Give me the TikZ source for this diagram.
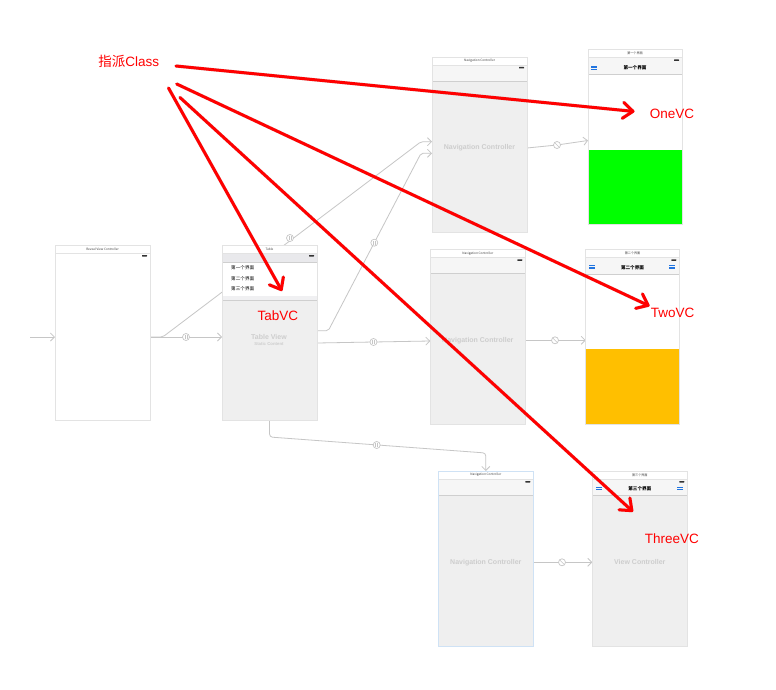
\documentclass[tikz,border=0pt]{standalone}
\usepackage{fontspec}
\setmainfont{Liberation Sans}
\newfontfamily\cjk{Noto Sans CJK SC}
\usetikzlibrary{arrows.meta,calc}
\definecolor{frm}{HTML}{E3E3E3}
\definecolor{bodyg}{HTML}{EFEFEF}
\definecolor{navg}{HTML}{F6F6F6}
\definecolor{navl}{HTML}{CFCFCF}
\definecolor{segc}{HTML}{C6C6C6}
\definecolor{lblg}{HTML}{CDCDCD}
\definecolor{iblue}{HTML}{2275E0}
\definecolor{vgreen}{HTML}{00FF00}
\definecolor{vorange}{HTML}{FFBF00}
\definecolor{selblue}{HTML}{CFE2F5}
\definecolor{tabg}{HTML}{E9E9EC}
\pgfdeclarelayer{bg}
\pgfsetlayers{bg,main}
\tikzset{
 scr/.style={draw=frm, line width=0.6pt, minimum width=95pt, minimum height=175pt, inner sep=0pt, outer sep=0pt, anchor=north west},
 ttl/.style={font=\cjk\fontsize{3.1}{4}\selectfont, text=black!75, inner sep=0pt},
 navttl/.style={font=\cjk\bfseries\fontsize{4.6}{5}\selectfont, text=black, inner sep=0pt},
 rowtxt/.style={font=\cjk\fontsize{4.6}{5}\selectfont, text=black, inner sep=0pt, anchor=west},
 glbl/.style={font=\bfseries\fontsize{7}{8}\selectfont, text=lblg, inner sep=0pt},
 redlbl/.style={font=\fontsize{13.5}{16}\selectfont, text=red, inner sep=0pt},
 seg/.style={draw=segc, line width=0.8pt},
 segarrow/.style={seg, -{Straight Barb[length=4pt,width=8pt,line width=0.8pt]}},
 segrel/.style={circle, draw=segc, fill=white, line width=0.7pt, minimum size=7pt, inner sep=0pt,
   path picture={\draw[segc, line width=0.5pt]
     ([xshift=-1pt,yshift=-1.8pt]path picture bounding box.center) -- ([xshift=-1pt,yshift=1.8pt]path picture bounding box.center)
     ([xshift=1pt,yshift=-1.8pt]path picture bounding box.center) -- ([xshift=1pt,yshift=1.8pt]path picture bounding box.center);}},
 segroot/.style={circle, draw=segc, fill=white, line width=0.7pt, minimum size=7pt, inner sep=0pt,
   path picture={\draw[segc, line width=0.5pt]
     ([xshift=-2.5pt,yshift=2.5pt]path picture bounding box.center) -- ([xshift=2.5pt,yshift=-2.5pt]path picture bounding box.center);}},
 redarrow/.style={draw=red, line width=3pt, line cap=round, line join=round, -{Straight Barb[length=10pt,width=16pt,round]}},
 redshadow/.style={draw=black, opacity=0.15, line width=3.4pt, line cap=round, line join=round, shift={(1.2,1.6)}, -{Straight Barb[length=10pt,width=16pt,round]}},
}
\newcommand\scrtitle[2]{%
  \draw[frm, line width=0.5pt, fill=white] (#1.north west) rectangle ($(#1.north east)+(0,8)$);
  \node[ttl] at ($(#1.north)+(0,4)$) {#2};}
\newcommand\scrbatt[1]{%
  \fill[black!80, rounded corners=0.4pt] ($(#1.north east)+(-8,10)$) rectangle ($(#1.north east)+(-3,11.5)$);}
\newcommand\scrnav[2]{%
  \fill[navg] ($(#1.north west)+(0,8)$) rectangle ($(#1.north east)+(0,#2)$);
  \draw[navl, line width=0.6pt] ($(#1.north west)+(0,#2)$) -- ($(#1.north east)+(0,#2)$);}
\newcommand\scrframe[2]{%
  \draw[#2, line width=0.6pt] (#1.north west) rectangle (#1.south east);}
\newcommand\scricon[1]{%
  \fill[iblue] ($(#1)+(-3,-1.6)$) rectangle ++(6,1.1);
  \fill[iblue] ($(#1)+(-3,0.5)$) rectangle ++(6,1.1);}
\begin{document}
\begin{tikzpicture}[x=1pt,y=-1pt]
\useasboundingbox (0,0) rectangle (776,690);
\begin{pgfonlayer}{bg}
\fill[white] (0,0) rectangle (776,690);
\end{pgfonlayer}

% ---------- screens ----------
% Reveal view controller
\node[scr, fill=white] (reveal) at (55,245) {};
\scrtitle{reveal}{Reveal View Controller}
\scrbatt{reveal}
\scrframe{reveal}{frm}

% Table view controller (TabVC)
\node[scr, fill=bodyg] (tab) at (222,245) {};
\fill[tabg] ($(tab.north west)+(0,8)$) rectangle ($(tab.north east)+(0,17.3)$);
\draw[navl, line width=0.5pt] ($(tab.north west)+(0,17.3)$) -- ($(tab.north east)+(0,17.3)$);
\fill[white] ($(tab.north west)+(0,17.6)$) rectangle ($(tab.north east)+(0,50.7)$);
\fill[tabg!70] ($(tab.north west)+(0,50.7)$) rectangle ($(tab.north east)+(0,55)$);
\draw[navl, line width=0.7pt] ($(tab.north west)+(0,55)$) -- ($(tab.north east)+(0,55)$);
\scrtitle{tab}{Table}
\scrbatt{tab}
\node[rowtxt] (row1) at ($(tab.north west)+(9,22.7)$) {第一个界面};
\node[rowtxt] (row2) at ($(tab.north west)+(9,33.7)$) {第二个界面};
\node[rowtxt] (row3) at ($(tab.north west)+(9,44)$) {第三个界面};
\node[glbl] (tabl) at (269,337.3) {Table View};
\node[font=\bfseries\fontsize{4.3}{5}\selectfont, text=lblg, inner sep=0pt] (tabsub) at (269,344.3) {Static Content};
\scrframe{tab}{frm}

% Navigation controller 1
\node[scr, fill=bodyg] (nav1) at (432,57) {};
\scrnav{nav1}{24.5}
\scrtitle{nav1}{Navigation Controller}
\scrbatt{nav1}
\node[glbl] (nav1l) at ($(nav1.center)+(0,3.6)$) {Navigation Controller};
\scrframe{nav1}{frm}

% OneVC
\node[scr, minimum width=94pt, fill=white] (one) at (588,49.5) {};
\scrnav{one}{24.8}
\fill[vgreen] ($(one.north west)+(0,100)$) rectangle (one.south east);
\scrtitle{one}{第一个界面}
\scrbatt{one}
\scricon{$(one.north west)+(6,18.6)$}
\node[navttl] (onet) at ($(one.north)+(0,18.6)$) {第一个界面};
\scrframe{one}{frm}

% Navigation controller 2
\node[scr, fill=bodyg] (nav2) at (430.3,249.3) {};
\scrnav{nav2}{24}
\scrtitle{nav2}{Navigation Controller}
\scrbatt{nav2}
\node[glbl] (nav2l) at ($(nav2.center)+(0,4.2)$) {Navigation Controller};
\scrframe{nav2}{frm}

% TwoVC
\node[scr, minimum width=93.6pt, fill=white] (two) at (585.7,249.3) {};
\scrnav{two}{24.5}
\fill[vorange] ($(two.north west)+(0,99.7)$) rectangle (two.south east);
\scrtitle{two}{第二个界面}
\scrbatt{two}
\scricon{$(two.north west)+(6.6,17.6)$}
\scricon{$(two.north east)+(-7.2,17.6)$}
\node[navttl] (twot) at ($(two.north)+(0,18)$) {第二个界面};
\scrframe{two}{frm}

% Navigation controller 3 (selected)
\node[scr, fill=bodyg, draw=selblue] (nav3) at (438.3,471) {};
\scrnav{nav3}{24.3}
\scrtitle{nav3}{Navigation Controller}
\scrbatt{nav3}
\node[glbl] (nav3l) at ($(nav3.center)+(0,3.8)$) {Navigation Controller};
\scrframe{nav3}{selblue}

% ThreeVC
\node[scr, fill=bodyg] (three) at (592.3,471) {};
\scrnav{three}{24.3}
\scrtitle{three}{第三个界面}
\scrbatt{three}
\scricon{$(three.north west)+(6.7,17.7)$}
\scricon{$(three.north east)+(-7.2,17.7)$}
\node[navttl] (threet) at ($(three.north)+(0,18)$) {第三个界面};
\node[glbl] (threel) at ($(three.center)+(0,3.8)$) {View Controller};
\scrframe{three}{frm}

% ---------- segues (behind screens) ----------
\begin{pgfonlayer}{bg}
\coordinate (entry) at (30,337);
\draw[segarrow] (entry) -- (reveal.west |- entry);
\draw[segarrow] (reveal.east |- entry) -- (tab.west |- entry);
\draw[segarrow, rounded corners=2pt] (reveal.east |- entry) -- (162.7,337) -- (421,141.7) -- ($(nav1.west)+(0,-2.8)$);
\draw[segarrow, rounded corners=2pt] ($(tab.east)+(0,-1.8)$) -- (328.3,330.7) -- (421,153.3) -- ($(nav1.west)+(0,8.8)$);
\draw[segarrow] ($(tab.east)+(0,10.5)$) -- ($(nav2.west)+(0,4.2)$);
\draw[segarrow, rounded corners=3pt] (tab.south) -- (269.5,437) -- (485.8,453) -- (nav3.north);
\draw[segarrow] ($(nav1.east)+(0,3.5)$) -- (557,145) -- ($(one.west)+(0,3.5)$);
\draw[segarrow] ($(nav2.east)+(0,3.5)$) -- ($(two.west)+(0,3.5)$);
\draw[segarrow] ($(nav3.east)+(0,3.8)$) -- ($(three.west)+(0,3.8)$);
\end{pgfonlayer}
\node[segrel] (s1) at (186,337) {};
\node[segrel] (s3) at (374.3,242.7) {};
\node[segrel] (s4) at (373.5,342) {};
\node[segrel] (s5) at (376.7,445) {};
\node[segroot] (s6) at (557,145) {};
\node[segroot] (s7) at (555,340.3) {};
\node[segroot] (s8) at (562,562.3) {};
\begin{pgfonlayer}{bg}
\node[segrel] (s2) at (290,238) {};
\end{pgfonlayer}

% ---------- red annotations ----------
\node[redlbl] (cls) at (128.7,61.7) {{\cjk 指派}Class};
\node[redlbl] (lone) at (672,114) {OneVC};
\node[redlbl] (ltwo) at (672.5,313) {TwoVC};
\node[redlbl] (ltab) at (277.8,316) {TabVC};
\node[redlbl] (lthree) at (671.8,539) {ThreeVC};
\coordinate (r1s) at (176,66);
\coordinate (r2s) at (176.7,84);
\coordinate (r3s) at (168.5,88);
\coordinate (r4s) at (180,97.5);
\coordinate (r1e) at (634.5,111.5);
\coordinate (r2e) at (649.5,306);
\coordinate (r3e) at (282,291);
\coordinate (r4e) at (633,511.7);
\draw[redshadow] (r1s) -- (r1e);
\draw[redshadow] (r2s) -- (r2e);
\draw[redshadow] (r3s) -- (r3e);
\draw[redshadow] (r4s) -- (r4e);
\draw[redarrow] (r1s) -- (r1e);
\draw[redarrow] (r2s) -- (r2e);
\draw[redarrow] (r3s) -- (r3e);
\draw[redarrow] (r4s) -- (r4e);
\end{tikzpicture}
\end{document}
